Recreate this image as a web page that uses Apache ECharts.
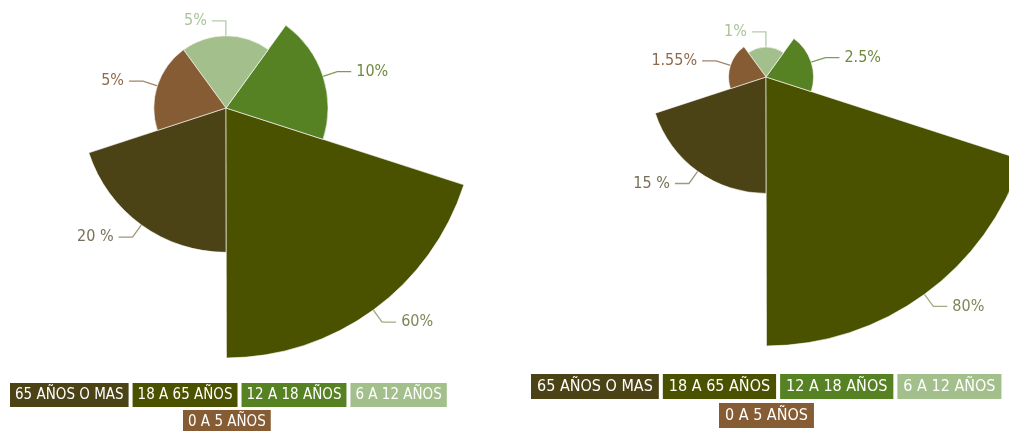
<!DOCTYPE html>
<html>
<head>
<meta charset="utf-8">
<script src="https://cdn.jsdelivr.net/npm/echarts@6/dist/echarts.min.js"></script>
<style>
  html, body { margin: 0; padding: 0; background: #fff; }
  #chart { width: 1009px; height: 431px; }
</style>
</head>
<body>
<div id="chart"></div>
<script>
const categories = ['65 AÑOS O MAS', '18 A 65 AÑOS', '12 A 18 AÑOS', '6 A 12 AÑOS', '0 A 5 AÑOS']
const leftValues = [20, 60, 10, 5, 5]
const leftLabels = ['20 %', '60%', '10%', '5%', '5%']
const rightValues = [15, 80, 2.5, 1, 1.55]
const rightLabels = ['15 %', '80%', '2.5%', '1%', '1.55%']

const colors = ['#4b4215', '#4a5200', '#578224', '#a3bf8b', '#855c33']
const labelColors = ['#777058', '#7e8756', '#6f8a3e', '#a9c49a', '#8e6a4c']
const lineColors = ['#9c977f', '#a3aa80', '#7f9a55', '#b5cba8', '#a38468']
const font = '"Liberation Sans Narrow", "DejaVu Sans Condensed", sans-serif'

// the rose radius in the picture grows with the square root of the value
// echarts runs rose label lines out to the outer radius, so shorten them per slice
const buildData = (values, labels, radius, lineLen) => {
    let max = Math.max(...values)
    return values.map((v, i) => {
        let r = radius * Math.sqrt(v / max)
        return {
            name: categories[i],
            value: Math.sqrt(v),
            itemStyle: { color: colors[i] },
            label: { formatter: labels[i], color: labelColors[i] },
            labelLine: { length: lineLen - (radius - r), lineStyle: { color: lineColors[i] } }
        }
    })
}

const makeRose = (values, labels, center, radius) => {
    return {
        type: 'pie',
        roseType: 'area',
        clockwise: false,
        startAngle: 198.1,
        center: center,
        radius: [0, radius],
        avoidLabelOverlap: false,
        itemStyle: { borderColor: '#ffffff', borderWidth: 0.6 },
        label: { fontFamily: font, fontSize: 16 },
        labelLine: { length2: 14, lineStyle: { width: 1.3 } },
        emphasis: { disabled: true },
        data: buildData(values, labels, radius, 15)
    }
}

const makeLegend = (names, left, top, size, pad) => {
    return {
        left: left,
        top: top,
        orient: 'horizontal',
        selectedMode: false,
        icon: 'rect',
        itemWidth: 0,
        itemHeight: 0,
        itemGap: -2,
        data: names.map(n => {
            return {
                name: n,
                textStyle: {
                    backgroundColor: colors[categories.indexOf(n)],
                    color: '#ffffff',
                    fontFamily: font,
                    fontSize: size,
                    lineHeight: size + 3,
                    padding: [3, pad, 3, pad]
                }
            }
        })
    }
}

const chart = echarts.init(document.getElementById('chart'))
chart.setOption({
    animation: false,
    legend: [
        makeLegend(categories.slice(0, 4), -1, 378, 15, 5),
        makeLegend(categories.slice(4), 172, 405, 15, 5),
        makeLegend(categories.slice(0, 4), 520, 369, 16, 6),
        makeLegend(categories.slice(4), 708, 398, 16, 6)
    ],
    series: [
        makeRose(leftValues, leftLabels, [226, 108], 250),
        makeRose(rightValues, rightLabels, [766, 77], 269)
    ]
})
</script>
</body>
</html>
